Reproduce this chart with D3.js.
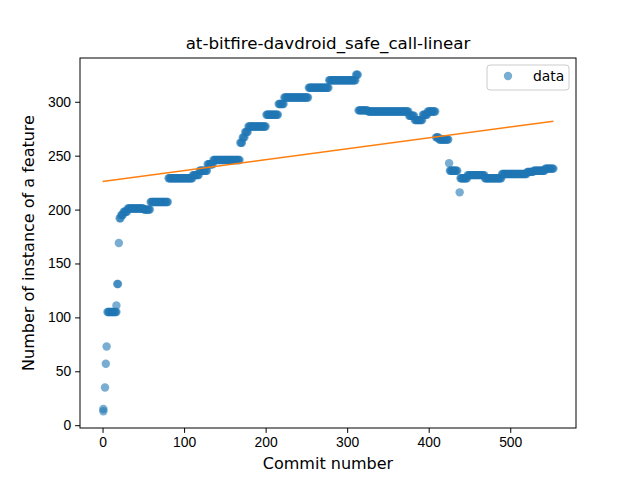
<!DOCTYPE html>
<html><head><meta charset="utf-8">
<script src="https://cdn.jsdelivr.net/npm/d3@7"></script>
<style>body{margin:0;background:#fff}svg{font-family:"DejaVu Sans",sans-serif}</style>
</head><body><svg id="chart"></svg>
<script>
// runs of constant value: [first commit, last commit, value]
const runs = [
  [1,1,13],[1,1,15],[3,3,35],[4,4,57],[5,5,73],[6,17,105],[17,17,111],[18,19,131],[20,20,169],
  [21,22,192],[23,25,195],[26,30,198],[31,50,201],[51,58,200],[59,80,207],
  [81,110,229],[111,118,232],[119,128,236],[129,135,242],[136,168,246],
  [169,171,262],[172,174,267],[175,178,272],[179,200,277],[201,215,288],[216,222,298],
  [223,252,304],[253,277,313],[278,310,320],[311,313,325],
  [314,325,292],[326,375,291],[376,382,287],[383,392,283],[393,398,288],[399,408,291],
  [409,412,267],[413,424,265],[425,425,243],[426,435,236],[438,438,216],
  [439,447,229],[448,468,232],[469,489,229],[490,520,233],[521,528,235],[529,542,236],[543,553,238]
];
const fitX = [0, 553];
const fitY = [226, 282];
const xTicks = [0, 100, 200, 300, 400, 500];
const yTicks = [0, 50, 100, 150, 200, 250, 300];

const data = [];
runs.forEach(r => { for (let c = r[0]; c <= r[1]; c++) data.push({c: c, v: r[2]}); });

const W = 640, H = 480;
const m = {left: 80, right: 64, top: 58, bottom: 52};
const svg = d3.select("#chart").attr("width", W).attr("height", H);
const x = d3.scaleLinear().domain([-27.65, 580.65]).range([m.left, W - m.right]);
const y = d3.scaleLinear().domain([-2.6, 340.6]).range([H - m.bottom, m.top]);

svg.append("g").selectAll("circle").data(data).enter().append("circle")
  .attr("cx", d => x(d.c)).attr("cy", d => y(d.v)).attr("r", 4.2)
  .attr("fill", "#1f77b4").attr("fill-opacity", 0.6);

svg.append("line")
  .attr("x1", x(fitX[0])).attr("y1", y(fitY[0]))
  .attr("x2", x(fitX[1])).attr("y2", y(fitY[1]))
  .attr("stroke", "#ff7f0e").attr("stroke-width", 1.6);

svg.append("g").attr("transform", "translate(0," + (H - m.bottom) + ")")
  .call(d3.axisBottom(x).tickValues(xTicks).tickSize(4.9).tickPadding(4))
  .call(g => g.selectAll("text").attr("font-size", 13.9).attr("fill", "#000"));
svg.append("g").attr("transform", "translate(" + m.left + ",0)")
  .call(d3.axisLeft(y).tickValues(yTicks).tickSize(4.9).tickPadding(4))
  .call(g => g.selectAll("text").attr("font-size", 13.9).attr("fill", "#000"));
svg.selectAll(".domain").remove();
svg.append("rect").attr("x", m.left).attr("y", m.top)
  .attr("width", W - m.left - m.right).attr("height", H - m.top - m.bottom)
  .attr("fill", "none").attr("stroke", "#000").attr("stroke-width", 1);

svg.append("text").attr("x", (m.left + W - m.right) / 2).attr("y", 49)
  .attr("text-anchor", "middle").attr("font-size", 16.7).text("at-bitfire-davdroid_safe_call-linear");
svg.append("text").attr("x", (m.left + W - m.right) / 2).attr("y", 469)
  .attr("text-anchor", "middle").attr("font-size", 16).text("Commit number");
svg.append("text").attr("transform", "translate(34," + ((m.top + H - m.bottom) / 2) + ") rotate(-90)")
  .attr("text-anchor", "middle").attr("font-size", 16).text("Number of instance of a feature");

const lg = svg.append("g").attr("transform", "translate(487,65)");
lg.append("rect").attr("width", 82).attr("height", 25).attr("rx", 3)
  .attr("fill", "#fff").attr("stroke", "#ccc");
lg.append("circle").attr("cx", 21).attr("cy", 11).attr("r", 4.2)
  .attr("fill", "#1f77b4").attr("fill-opacity", 0.6);
lg.append("text").attr("x", 46).attr("y", 16).attr("font-size", 13.9).text("data");
</script></body></html>
